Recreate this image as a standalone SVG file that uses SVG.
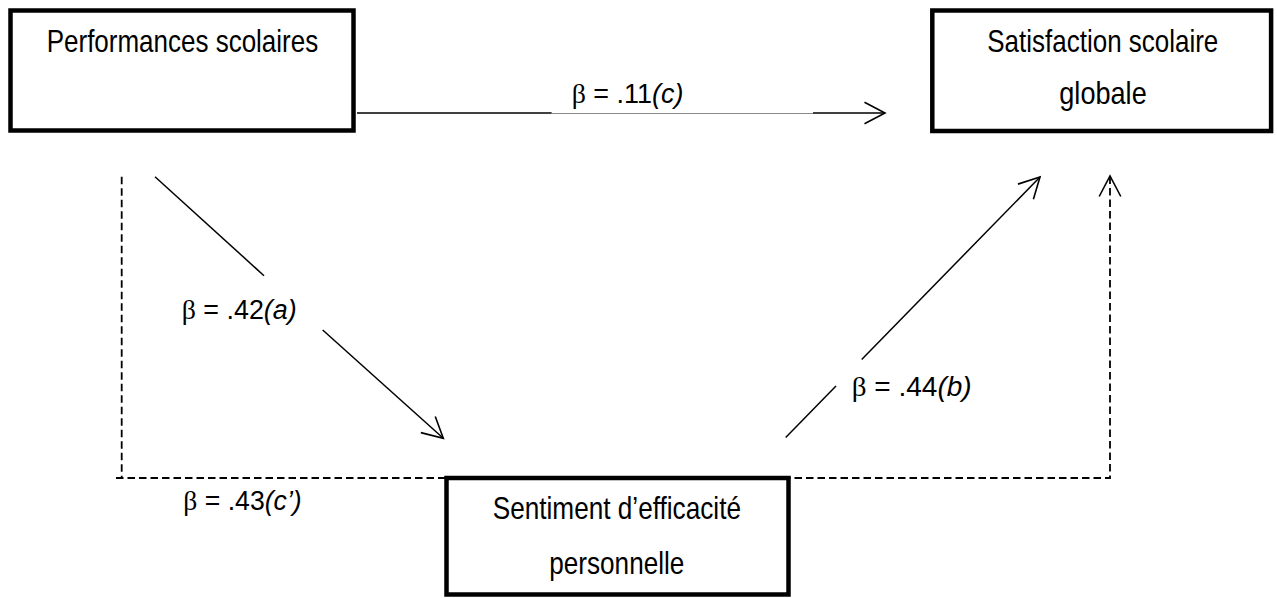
<svg xmlns="http://www.w3.org/2000/svg" width="1277" height="598" viewBox="0 0 1277 598">
  <style>
    .box { fill: #ffffff; stroke: #000000; stroke-width: 4.5; }
    .node-text { font-family: "Liberation Sans Narrow", "Liberation Sans", Arial, sans-serif; font-size: 32px; fill: #000000; }
    .label { font-family: "Liberation Sans Narrow", "Liberation Sans", Arial, sans-serif; font-size: 27px; fill: #000000; }
    .beta { font-family: "Liberation Serif", "Times New Roman", serif; font-size: 28px; }
    .it { font-style: italic; }
    .conn { fill: none; stroke: #000000; stroke-width: 1.5; }
    .thin { fill: none; stroke: #888888; stroke-width: 1; }
    .dash { fill: none; stroke: #000000; stroke-width: 1.8; stroke-dasharray: 7.5 4; }
  </style>
  <defs>
    <marker id="arrow" markerUnits="userSpaceOnUse" markerWidth="30" markerHeight="30" viewBox="-25 -15 30 30" refX="0" refY="0" orient="auto">
      <path d="M-20.5,-10.8 L0,0 L-20.5,10.8" fill="none" stroke="#000000" stroke-width="1.6" stroke-dasharray="none"/>
    </marker>
  </defs>

  <rect width="1277" height="598" fill="#ffffff"/>

  <g id="connectors">
    <!-- c : Performances -> Satisfaction -->
    <line class="conn" x1="357" y1="113" x2="551.7" y2="113"/>
    <line class="thin" x1="551.7" y1="113.5" x2="813" y2="113.5"/>
    <line class="conn" x1="813" y1="113" x2="885" y2="113" marker-end="url(#arrow)"/>
    <!-- a : Performances -> Sentiment -->
    <line class="conn" x1="155" y1="176.7" x2="264" y2="275.7"/>
    <line class="conn" x1="322.7" y1="330" x2="443.3" y2="438.3" marker-end="url(#arrow)"/>
    <!-- b : Sentiment -> Satisfaction -->
    <line class="conn" x1="785.7" y1="437.5" x2="836" y2="386"/>
    <line class="conn" x1="861.7" y1="359.5" x2="1040" y2="177" marker-end="url(#arrow)"/>
    <!-- c' : dashed direct path -->
    <path class="dash" d="M121.7,176.7 V478 M116,478 H1110 V176" marker-end="url(#arrow)"/>
  </g>

  <g id="labels">
    <text class="label" x="571.7" y="102.7" textLength="111.7" lengthAdjust="spacingAndGlyphs"><tspan class="beta">β</tspan> = .11<tspan class="it">(c)</tspan></text>
    <text class="label" x="181.7" y="319.3" textLength="115" lengthAdjust="spacingAndGlyphs"><tspan class="beta">β</tspan> = .42<tspan class="it">(a)</tspan></text>
    <text class="label" x="851.7" y="396" textLength="120" lengthAdjust="spacingAndGlyphs"><tspan class="beta">β</tspan> = .44<tspan class="it">(b)</tspan></text>
    <text class="label" x="183.3" y="510" textLength="118.4" lengthAdjust="spacingAndGlyphs"><tspan class="beta">β</tspan> = .43<tspan class="it">(c’)</tspan></text>
  </g>

  <g id="node-performances">
    <rect class="box" x="10.5" y="10.5" width="343" height="120"/>
    <text class="node-text" x="46.7" y="51.7" textLength="271.5" lengthAdjust="spacingAndGlyphs">Performances scolaires</text>
  </g>

  <g id="node-satisfaction">
    <rect class="box" x="932.3" y="10.5" width="338.8" height="120.5"/>
    <text class="node-text" x="987.3" y="51.7" textLength="231" lengthAdjust="spacingAndGlyphs">Satisfaction scolaire</text>
    <text class="node-text" x="1059.3" y="104" textLength="87.4" lengthAdjust="spacingAndGlyphs">globale</text>
  </g>

  <g id="node-sentiment">
    <rect class="box" x="446.5" y="478" width="342" height="116.5"/>
    <text class="node-text" x="492.7" y="519.3" textLength="248.3" lengthAdjust="spacingAndGlyphs">Sentiment d’efficacité</text>
    <text class="node-text" x="549.3" y="574.3" textLength="135" lengthAdjust="spacingAndGlyphs">personnelle</text>
  </g>
</svg>
